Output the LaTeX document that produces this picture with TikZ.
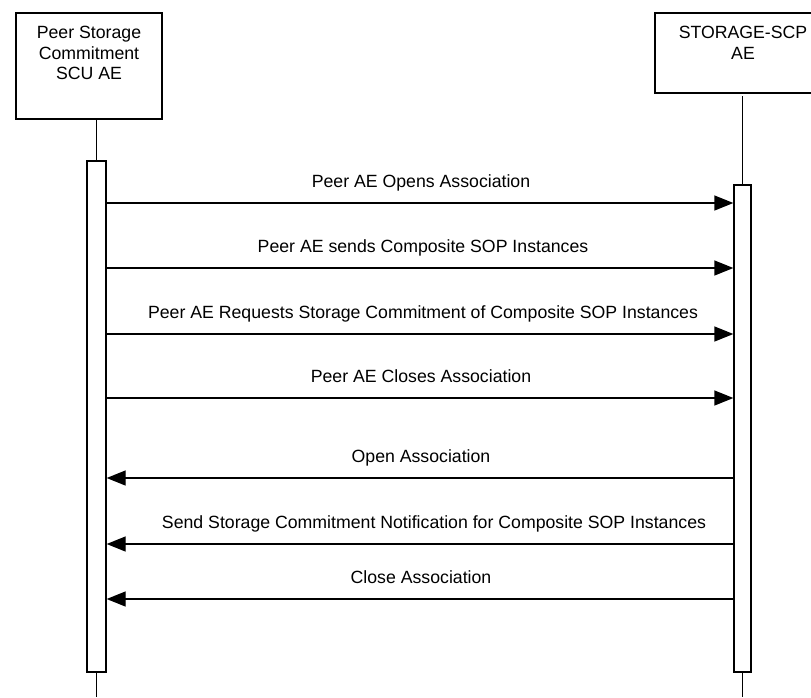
\documentclass[tikz,border=0pt]{standalone}
\usepackage{fontspec}
\setmainfont{Liberation Sans}
\usetikzlibrary{arrows.meta}
\begin{document}
\begin{tikzpicture}[x=1pt,y=-1pt,
  every node/.style={font=\fontsize{17.7}{20.5}\selectfont},
  actor/.style={draw, line width=1.3pt, rectangle, inner sep=0pt, fill=white},
  actorlabel/.style={anchor=north, align=center, inner sep=0pt},
  bar/.style={draw, line width=1.3pt, rectangle, inner sep=0pt, fill=white},
  life/.style={line width=1.3pt},
  msg/.style={line width=1.3pt, -{Triangle[length=19pt,width=15pt]}},
  msglabel/.style={anchor=base, inner sep=0pt}
]
\useasboundingbox (0,0) rectangle (811,697);
\begin{scope}
\clip (0,0) rectangle (811,697);
% actors
\node[actor, minimum width=146pt, minimum height=106pt] (scu) at (89,66) {};
\node[actorlabel] (scut) at (89,26) {Peer Storage\\Commitment\\SCU AE};
\node[actor, minimum width=176pt, minimum height=80pt] (scp) at (743,53) {};
\node[actorlabel] (scpt) at (743,26) {STORAGE-SCP\\AE};
% activation bars
\node[bar, minimum width=19pt, minimum height=511pt] (lbar) at (96.5,416.5) {};
\node[bar, minimum width=17pt, minimum height=487pt] (rbar) at (742.5,428.5) {};
% lifelines
\coordinate (lend) at (96.5,697);
\coordinate (rtop) at (742.5,96);
\coordinate (rend) at (742.5,697);
\draw[life] (scu.south -| lbar.north) -- (lbar.north);
\draw[life] (lbar.south) -- (lend);
\draw[life] (rtop) -- (rbar.north);
\draw[life] (rbar.south) -- (rend);
% messages
\foreach \y/\x/\name/\txt in {
  203/421/m1/{Peer AE Opens Association},
  268/423/m2/{Peer AE sends Composite SOP Instances},
  334/423/m3/{Peer AE Requests Storage Commitment of Composite SOP Instances},
  398/421/m4/{Peer AE Closes Association}}{
  \coordinate (\name a) at (lbar.east |- 0,\y);
  \coordinate (\name b) at (rbar.west |- 0,\y);
  \draw[msg] (\name a) -- (\name b);
  \node[msglabel] (\name t) at (\x,\y-15.5) {\txt};
}
\foreach \y/\x/\name/\txt in {
  478/421/n1/{Open Association},
  544/434/n2/{Send Storage Commitment Notification for Composite SOP Instances},
  599/421/n3/{Close Association}}{
  \coordinate (\name a) at (rbar.west |- 0,\y);
  \coordinate (\name b) at (lbar.east |- 0,\y);
  \draw[msg] (\name a) -- (\name b);
  \node[msglabel] (\name t) at (\x,\y-15.5) {\txt};
}
\end{scope}
\end{tikzpicture}
\end{document}
